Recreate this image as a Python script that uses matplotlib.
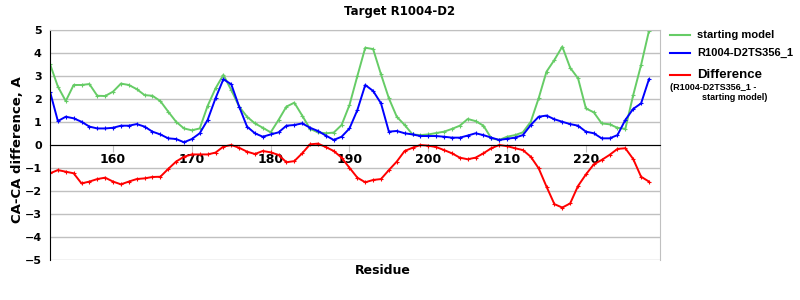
import matplotlib
matplotlib.use('Agg')
import matplotlib.pyplot as plt
from matplotlib.lines import Line2D

residues = list(range(152, 229))

starting_model = [
    3.52, 2.54, 1.91, 2.61, 2.61, 2.65, 2.14, 2.13, 2.32, 2.67,
    2.61, 2.43, 2.17, 2.14, 1.91, 1.45, 1.01, 0.72, 0.64, 0.72,
    1.70, 2.46, 3.05, 2.39, 1.67, 1.23, 0.94, 0.75, 0.55, 1.09,
    1.67, 1.84, 1.28, 0.70, 0.55, 0.51, 0.54, 0.87, 1.74, 3.00,
    4.23, 4.17, 3.07, 2.03, 1.23, 0.87, 0.46, 0.43, 0.46, 0.52,
    0.58, 0.70, 0.84, 1.13, 1.04, 0.84, 0.29, 0.22, 0.36, 0.43,
    0.55, 1.01, 2.03, 3.19, 3.70, 4.28, 3.36, 2.90, 1.59, 1.42,
    0.94, 0.90, 0.75, 0.70, 2.17, 3.48, 4.96,
]

ts356 = [
    2.32, 1.04, 1.23, 1.16, 1.01, 0.80, 0.72, 0.72, 0.75, 0.84,
    0.84, 0.91, 0.80, 0.58, 0.46, 0.29, 0.26, 0.12, 0.26, 0.51,
    1.09, 2.03, 2.86, 2.64, 1.67, 0.80, 0.51, 0.36, 0.46, 0.55,
    0.84, 0.87, 0.94, 0.75, 0.61, 0.41, 0.22, 0.36, 0.72, 1.52,
    2.61, 2.35, 1.81, 0.58, 0.61, 0.51, 0.46, 0.39, 0.39, 0.39,
    0.36, 0.32, 0.32, 0.41, 0.51, 0.43, 0.32, 0.22, 0.27, 0.32,
    0.43, 0.87, 1.23, 1.28, 1.12, 1.01, 0.91, 0.84, 0.58, 0.51,
    0.29, 0.29, 0.43, 1.09, 1.57, 1.81, 2.86,
]

difference = [
    -1.23, -1.09, -1.16, -1.23, -1.67, -1.59, -1.48, -1.42, -1.59, -1.71,
    -1.59, -1.48, -1.45, -1.39, -1.38, -1.04, -0.72, -0.51, -0.41, -0.41,
    -0.41, -0.33, -0.07, 0.00, -0.12, -0.29, -0.39, -0.26, -0.32, -0.43,
    -0.75, -0.70, -0.36, 0.03, 0.06, -0.09, -0.26, -0.55, -0.99, -1.42,
    -1.62, -1.52, -1.48, -1.09, -0.72, -0.26, -0.12, 0.00, -0.03, -0.09,
    -0.22, -0.36, -0.55, -0.62, -0.55, -0.36, -0.14, 0.00, -0.05, -0.14,
    -0.22, -0.51, -1.01, -1.81, -2.57, -2.72, -2.54, -1.78, -1.28, -0.84,
    -0.65, -0.43, -0.17, -0.14, -0.61, -1.38, -1.59,
]

green = '#66cc66'
blue = '#0000ff'
red = '#ff0000'

fig = plt.figure(figsize=(8, 3), dpi=100)
ax = fig.add_axes([0.0625, 0.1333, 0.7625, 0.7667])

for ys, col in [(starting_model, green), (ts356, blue), (difference, red)]:
    ax.plot(residues, ys, color=col, lw=1.4, marker='+', ms=3, mew=0.8, clip_on=True)

ax.set_xlim(152, 229.4)
ax.set_ylim(-5, 5)
ax.set_yticks(range(-5, 6))
ax.set_xticks(range(160, 221, 10))
ax.yaxis.grid(True, color='#c0c0c0', lw=1)
ax.set_axisbelow(True)

ax.spines['bottom'].set_position(('data', 0))
ax.spines['bottom'].set_color('black')
ax.spines['left'].set_color('black')
ax.spines['top'].set_color('#c0c0c0')
ax.spines['right'].set_color('#c0c0c0')

ax.tick_params(axis='x', direction='out', length=5, color='#c0c0c0', pad=1)
ax.tick_params(axis='y', length=0, pad=6)
for lab in ax.get_xticklabels():
    lab.set_fontsize(9)
    lab.set_fontweight('bold')
for lab in ax.get_yticklabels():
    lab.set_fontsize(8)
    lab.set_fontweight('bold')

fig.text(0.5, 0.96, 'Target R1004-D2', ha='center', va='center', fontsize=8.5, fontweight='bold')
fig.text(0.0225, 0.5, 'CA-CA difference, A', rotation=90, ha='center', va='center', fontsize=9.5, fontweight='bold')
fig.text(0.479, 0.1, 'Residue', ha='center', va='center', fontsize=9, fontweight='bold')

# legend, drawn by hand
legend_rows = [
    (35, green, 'starting model', 8),
    (53, blue, 'R1004-D2TS356_1', 8),
    (75, red, 'Difference', 9.5),
]
for ypix, col, txt, fs in legend_rows:
    yf = 1 - ypix / 300
    fig.add_artist(Line2D([670 / 800, 690 / 800], [yf, yf], color=col, lw=1.5, transform=fig.transFigure))
    fig.text(697 / 800, yf, txt, ha='left', va='center', fontsize=fs, fontweight='bold', family='Liberation Sans')
fig.text(670 / 800, 1 - 88 / 300, '(R1004-D2TS356_1 -', ha='left', va='center', fontsize=6.5, fontweight='bold', family='Liberation Sans')
fig.text(702 / 800, 1 - 98 / 300, 'starting model)', ha='left', va='center', fontsize=6.5, fontweight='bold', family='Liberation Sans')

fig.savefig('out.png', dpi=100)
